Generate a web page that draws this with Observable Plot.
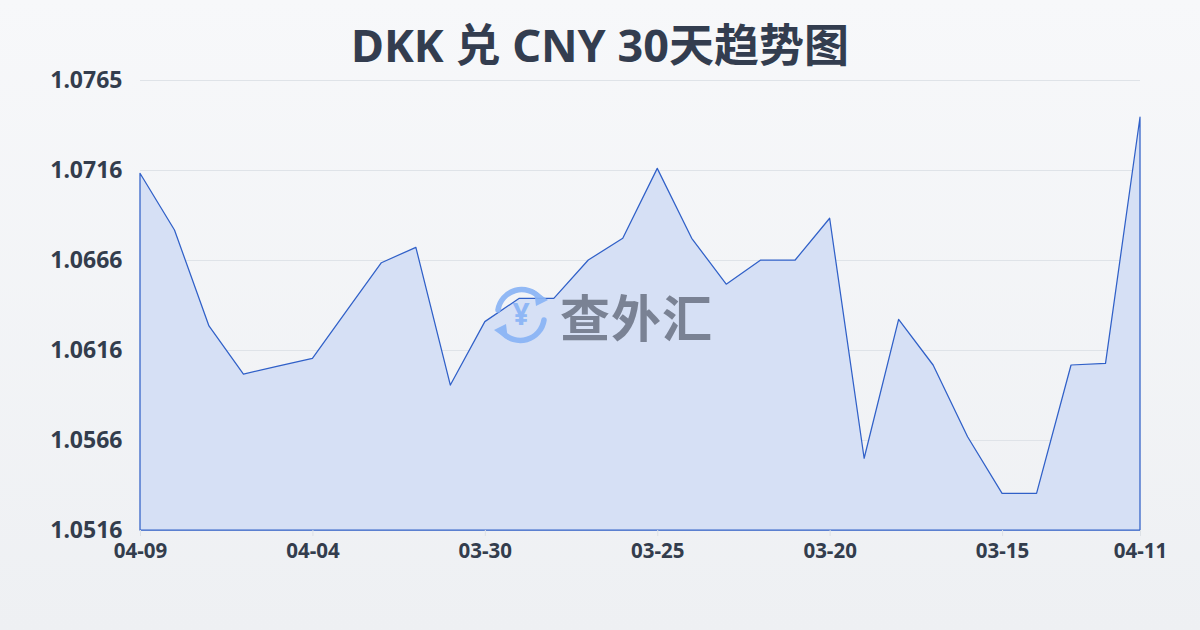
<!DOCTYPE html>
<html>
<head>
<meta charset="utf-8">
<script src="https://cdn.jsdelivr.net/npm/d3@7"></script>
<script src="https://cdn.jsdelivr.net/npm/@observablehq/plot@0.6"></script>
<style>
  html, body { margin: 0; padding: 0; }
  #wrap {
    position: relative; width: 1200px; height: 630px; overflow: hidden;
    background: linear-gradient(180deg, #f7f8fa 0%, #eef0f3 100%);
    font-family: "Noto Sans", "Noto Sans CJK SC", sans-serif;
  }
  #title {
    position: absolute; left: 0; top: 13px; width: 1200px; text-align: center;
    font-family: "Noto Sans", "Noto Sans CJK SC", sans-serif;
    font-weight: 700; font-size: 45px; color: #333d4f; line-height: 64px;
  }
  #chart { position: absolute; left: 0; top: 0; }
  #wm { position: absolute; left: 490px; top: 284px; display: flex; align-items: center; opacity: 0.92; }
  #wm .txt { font-family: "Noto Sans CJK SC", sans-serif; font-weight: 700; font-size: 50px; color: #737b8c; margin-left: 8px; line-height: 60px; letter-spacing: 1px; }
</style>
</head>
<body>
<div id="wrap">
  <div id="chart"></div>
  <div id="title">DKK 兑 CNY 30天趋势图</div>
  <div id="wm">
    <svg width="62" height="62" viewBox="0 0 62 62">
      <path d="M 8 26 A 24 24 0 0 1 50 14" fill="none" stroke="#8ab4f5" stroke-width="5.5" stroke-linecap="round"/>
      <polygon points="44,6 58,16 46,22" fill="#8ab4f5"/>
      <path d="M 54 36 A 24 24 0 0 1 12 48" fill="none" stroke="#8ab4f5" stroke-width="5.5" stroke-linecap="round"/>
      <polygon points="18,56 4,46 16,40" fill="#8ab4f5"/>
      <text x="31" y="41" text-anchor="middle" font-family="Noto Sans" font-weight="700" font-size="30" fill="#8ab4f5">¥</text>
    </svg>
    <span class="txt">查外汇</span>
  </div>
</div>
<script>
const dates = ["04-09","04-08","04-07","04-06","04-05","04-04","04-03","04-02","04-01","03-31",
               "03-30","03-29","03-28","03-27","03-26","03-25","03-24","03-23","03-22","03-21",
               "03-20","03-19","03-18","03-17","03-16","03-15","03-14","03-13","03-12","04-11"];
const rates = [1.07134,1.0682,1.06289,1.06023,1.06067,1.0611,1.06375,1.06639,1.06724,1.05962,
               1.06313,1.06442,1.06442,1.06654,1.06774,1.07161,1.06774,1.0652,1.06654,1.06654,
               1.06885,1.05557,1.06326,1.06073,1.05676,1.05363,1.05363,1.06073,1.06082,1.07444];
const xTickLabels = ["04-09","04-04","03-30","03-25","03-20","03-15","04-11"];
const yTickLabels = ["1.0516","1.0566","1.0616","1.0666","1.0716","1.0765"];
const yMin = 1.0516, yMax = 1.0765;

const data = dates.map((d, i) => ({date: d, value: rates[i]}));
const yTicks = yTickLabels.map((_, i) => yMin + i * (yMax - yMin) / (yTickLabels.length - 1));

const chart = Plot.plot({
  width: 1200, height: 630,
  marginTop: 80, marginBottom: 100, marginLeft: 140, marginRight: 60,
  style: {background: "transparent", fontFamily: "Noto Sans", overflow: "visible"},
  x: {type: "point", domain: dates, padding: 0, round: false, label: null},
  y: {domain: [yMin, yMax], label: null},
  marks: [
    Plot.gridY(yTicks, {stroke: "#dfe3e8", strokeOpacity: 1, strokeWidth: 1}),
    Plot.areaY(data, {x: "date", y1: () => yMin, y2: "value", fill: "#d6e0f5", stroke: "#3060c8", strokeWidth: 1.25, curve: "linear"}),
    Plot.axisY({ticks: yTicks, tickFormat: (d, i) => yTickLabels[i], tickSize: 0, tickPadding: 18,
      fontSize: 23, fontWeight: 700, fill: "#333d4d"}),
    Plot.axisX({ticks: xTickLabels, tickSize: 6, tickPadding: 7, stroke: "#dde1e6",
      fontSize: 20.5, fontWeight: 700, fill: "#333d4d"})
  ]
});
document.getElementById("chart").appendChild(chart);
</script>
</body>
</html>
